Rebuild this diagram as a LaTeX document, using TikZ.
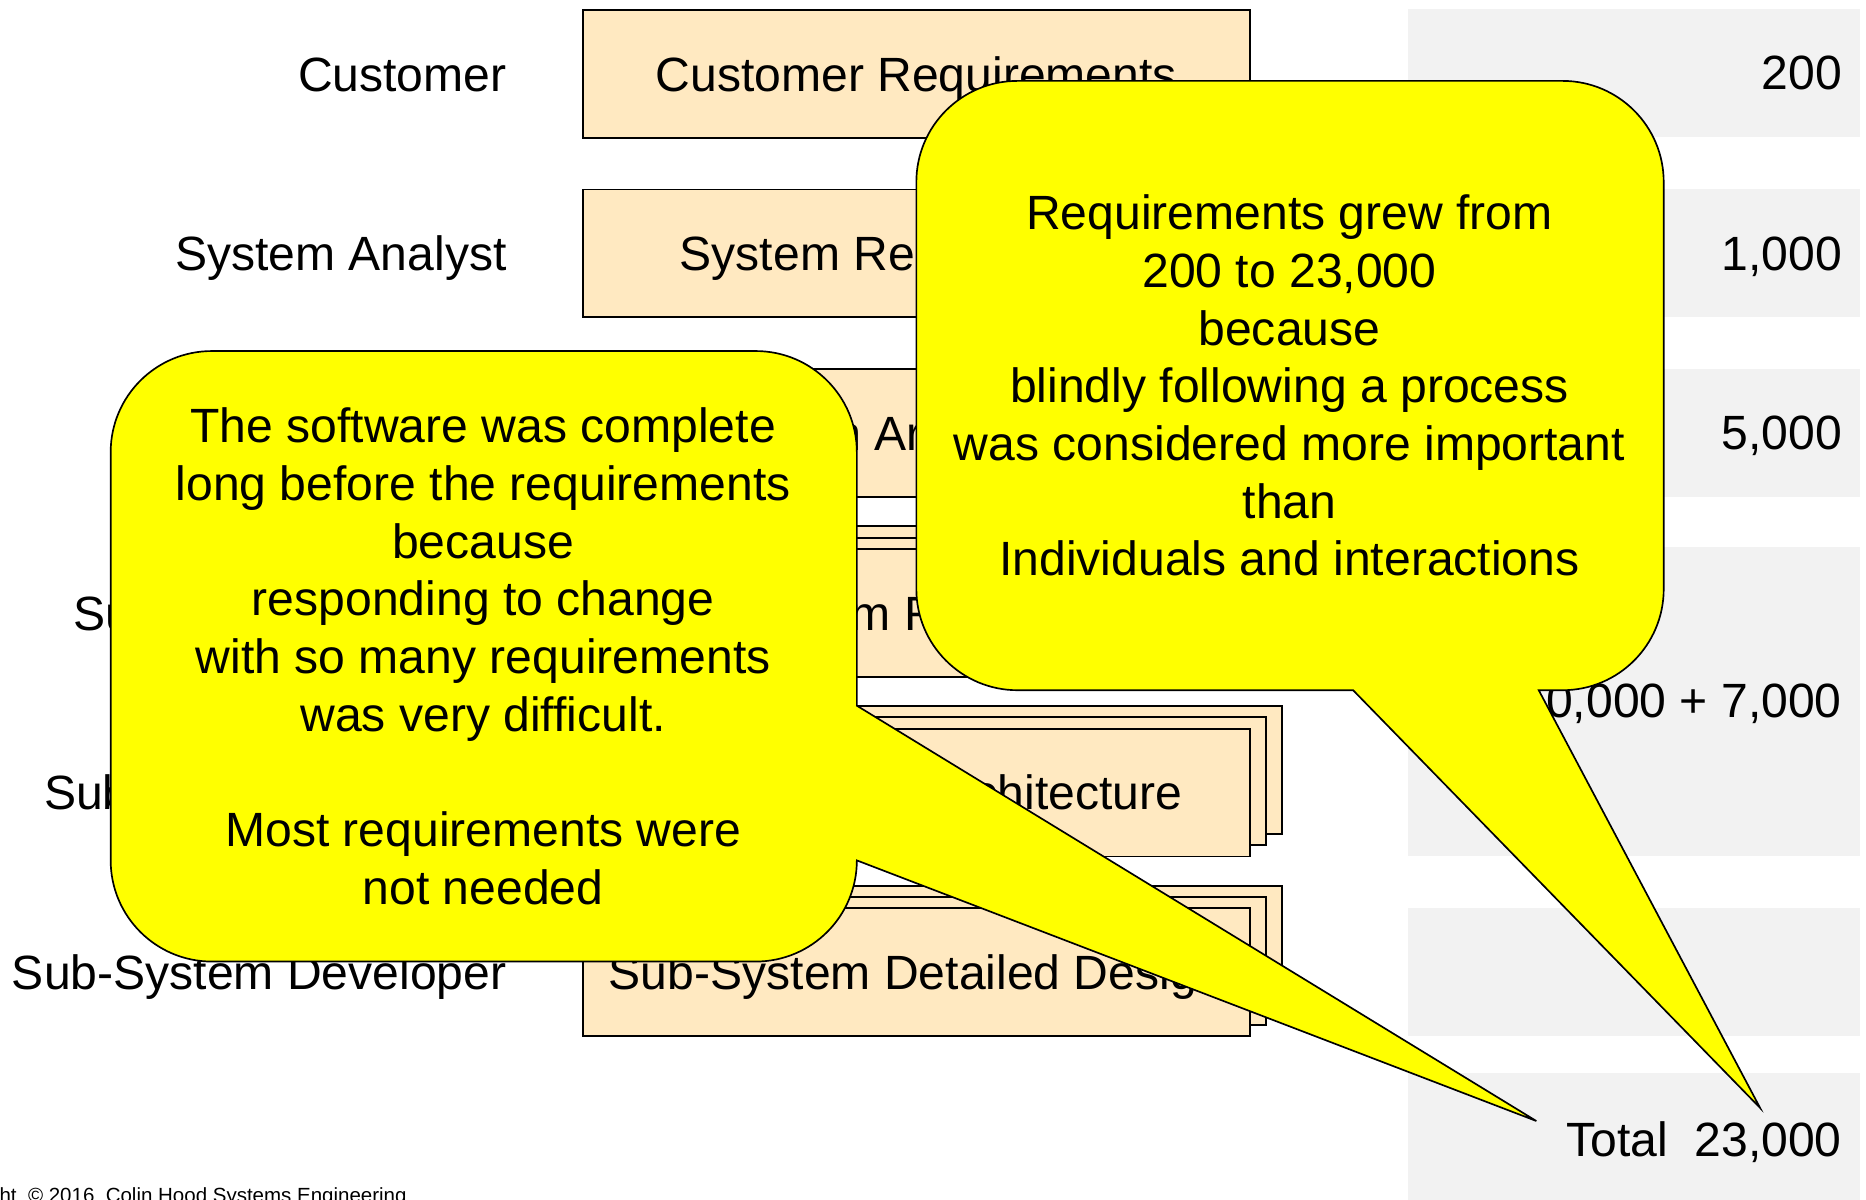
\documentclass[tikz,border=0pt]{standalone}
\usepackage{fontspec}
\setmainfont{Liberation Sans}
\usetikzlibrary{positioning}

\definecolor{docfill}{RGB}{255,233,193}
\definecolor{cellgrey}{RGB}{242,242,242}
\definecolor{noteyellow}{RGB}{255,255,0}

\newcommand{\slidefont}{\fontsize{23}{27.6}\selectfont}

\tikzset{
  role/.style={anchor=base east, inner sep=0pt, font=\slidefont},
  docbox/.style={draw=black, fill=docfill, line width=0.9pt, inner sep=0pt,
    minimum width=11.2cm, minimum height=2.15cm,
    text height=0.75cm, text depth=0.17cm, font=\slidefont},
  countcell/.style={fill=cellgrey},
  count/.style={anchor=base east, inner sep=0pt, font=\slidefont},
  callout/.style={draw=black, fill=noteyellow, line width=0.8pt},
  notetext/.style={align=center, inner sep=0pt, font=\slidefont}
}

\begin{document}
\begin{tikzpicture}

\useasboundingbox (0,0) rectangle (31.36,20.16);

% === RIGHT COLUMN: requirement counts ===
\foreach \top/\bot in {20.00/17.85, 16.98/14.83, 13.96/11.81, 10.96/5.78, 4.90/2.75, 2.12/-0.2}
    \fill[countcell] (23.66,\top) rectangle (31.26,\bot);

\node[count] (n-cust)  at (30.96,18.65) {200};
\node[count] (n-sys)   at (30.96,15.62) {1,000};
\node[count] (n-arch)  at (30.96,12.60) {5,000};
\node[count] (n-sub)   at (30.96,8.10)  {10,000 + 7,000};
\node[count] (n-total) at (30.96,0.73)  {Total\ \ 23,000};

% === LEFT COLUMN: who writes them ===
\foreach \y/\who/\nm in {18.92/Customer/cust, 15.90/System Analyst/sysan,
    9.86/Sub-System Analyst/ssan, 6.84/Sub-System Architect/ssarch,
    3.82/Sub-System Developer/ssdev}
    \node[role] (role-\nm) at (8.52,{\y-0.29}) {\who};

% === MIDDLE COLUMN: documents ===
% single documents
\foreach \y/\doc/\nm in {18.92/Customer Requirements/custreq,
    15.90/System Requirements/sysreq, 12.88/System Architecture/sysarch}
    \node[docbox] (\nm) at (15.40,\y) {\doc};

% one set of documents per sub-system (two sheets behind the front one)
\foreach \y/\doc/\nm in {9.86/Sub-System Requirements/ssreq,
    6.84/Sub-System Architecture/ssarchdoc, 3.82/Sub-System Detailed Design/ssdes} {
    \node[docbox] (\nm-back2) at (15.94,{\y+0.38}) {};
    \node[docbox] (\nm-back1) at (15.67,{\y+0.19}) {};
    \node[docbox] (\nm) at (15.40,\y) {\doc};
}

% === CALLOUT: process over people ===
\coordinate (tipR) at (29.58,1.54);
\draw[callout] (17.10,18.80) -- (26.26,18.80)
    arc[start angle=90, end angle=0, radius=1.7] -- (27.96,10.26)
    arc[start angle=0, end angle=-90, radius=1.7] -- (25.86,8.56)
    -- (tipR) -- (22.74,8.56) -- (17.10,8.56)
    arc[start angle=270, end angle=180, radius=1.7] -- (15.40,17.10)
    arc[start angle=180, end angle=90, radius=1.7] -- cycle;
\node[notetext] (note-process) at (21.67,13.68)
    {Requirements grew from\\200 to 23,000\\because\\blindly following a process\\
     was considered more important\\than\\Individuals and interactions};

% === CALLOUT: responding to change ===
\coordinate (tipL) at (25.82,1.32);
\draw[callout] (3.56,14.26) -- (12.70,14.26)
    arc[start angle=90, end angle=0, radius=1.7] -- (14.40,8.30)
    -- (tipL) -- (14.40,5.70)
    arc[start angle=0, end angle=-90, radius=1.7] -- (3.56,4.00)
    arc[start angle=270, end angle=180, radius=1.7] -- (1.86,12.56)
    arc[start angle=180, end angle=90, radius=1.7] -- cycle;
\node[notetext] (note-change) at (8.12,9.13)
    {The software was complete\\long before the requirements\\because\\
     responding to change\\with so many requirements\\was very difficult.\\
     \mbox{}\\Most requirements were\\not needed};

% footer
\node[anchor=base east, inner sep=0pt, font=\fontsize{9.8}{11}\selectfont] (footer)
    at (6.84,-0.05) {Copyright~ \textcopyright{} 2016~ Colin Hood Systems Engineering};

\end{tikzpicture}
\end{document}
